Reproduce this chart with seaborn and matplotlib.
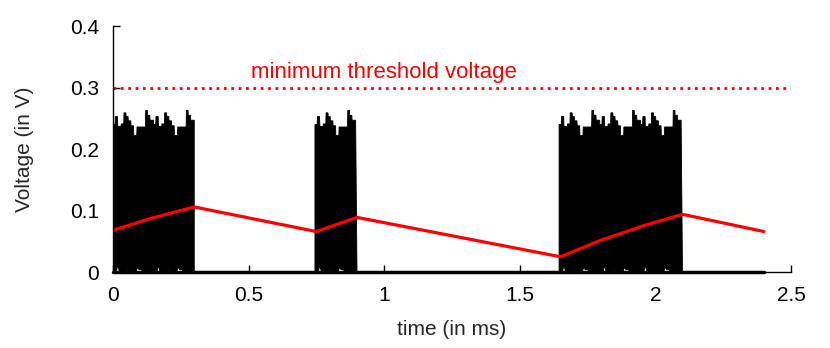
import numpy as np
import pandas as pd
import seaborn as sns
import matplotlib
matplotlib.use("Agg")
import matplotlib.pyplot as plt

# red curve (capacitor voltage)
red_t = [0.0, 0.137, 0.3, 0.75, 0.9, 1.65, 1.8, 1.96, 2.1, 2.4]
red_v = [0.068, 0.087, 0.106, 0.066, 0.089, 0.025, 0.052, 0.076, 0.094, 0.066]

# bursts of the harvested signal (start, end in ms)
burst_start = [0.0, 0.745, 1.645]
burst_end = [0.3, 0.9, 2.1]
period = 0.15

# one period of the upper envelope (offset in ms, V)
top_off = [0.0, 0.008, 0.009, 0.017, 0.018, 0.030, 0.031, 0.040, 0.041, 0.048,
           0.049, 0.056, 0.057, 0.066, 0.067, 0.076, 0.077, 0.088, 0.089, 0.120,
           0.121, 0.127, 0.128, 0.136, 0.137, 0.15]
top_v = [0.240, 0.240, 0.253, 0.253, 0.237, 0.237, 0.241, 0.241, 0.259, 0.259,
         0.253, 0.253, 0.246, 0.246, 0.238, 0.238, 0.222, 0.222, 0.236, 0.236,
         0.263, 0.263, 0.255, 0.255, 0.247, 0.247]

# one period of the lower envelope
low_off = [0.0, 0.012, 0.018, 0.024, 0.05, 0.055, 0.06, 0.085, 0.088, 0.092,
           0.096, 0.106, 0.109, 0.15]
low_v = [0.0, 0.0, 0.011, 0.0, 0.0, 0.004, 0.0, 0.0, 0.004, 0.008,
         0.004, 0.004, 0.0, 0.0]

signal_end = 2.4
threshold = 0.3

sns.set_theme(style="ticks")
plt.rcParams["font.family"] = ["Liberation Sans", "DejaVu Sans"]

fig = plt.figure(figsize=(8.3, 3.48), dpi=100)
ax = fig.add_axes([0.136, 0.218, 0.817, 0.707])

# baseline of the signal (zero between bursts)
sns.lineplot(x=[0.0, signal_end], y=[0.0, 0.0], color="black", lw=2.5,
             ax=ax, clip_on=False)

# bursts drawn as filled envelopes
for s, e in zip(burst_start, burst_end):
    n = int(round((e - s) / period))
    ut, uv, lt, lv = [], [], [], []
    for k in range(n):
        ut += [s + k * period + o for o in top_off]
        uv += top_v
        lt += [s + k * period + o for o in low_off]
        lv += low_v
    xs = [s] + ut + [e] + lt[::-1]
    ys = [0.0] + uv + [0.0] + lv[::-1]
    ax.fill(xs, ys, color="black", lw=0.6, edgecolor="black")

# threshold line
sns.lineplot(x=[0.0, 2.5], y=[threshold, threshold], color="red", lw=2,
             linestyle=":", ax=ax)
ax.text(1.0, 0.325, "minimum threshold voltage", color="red", fontsize=16,
        ha="center", va="center")

# red curve
red = pd.DataFrame({"t": red_t, "v": red_v})
sns.lineplot(data=red, x="t", y="v", color="red", lw=2.3, ax=ax)

ax.set_xlim(0, 2.5)
ax.set_ylim(0, 0.4)
ax.set_xticks([0, 0.5, 1, 1.5, 2, 2.5])
ax.set_xticklabels(["0", "0.5", "1", "1.5", "2", "2.5"])
ax.set_yticks([0, 0.1, 0.2, 0.3, 0.4])
ax.set_yticklabels(["0", "0.1", "0.2", "0.3", "0.4"])
ax.tick_params(direction="in", length=5, width=1, labelsize=15, pad=10,
               colors="black")
ax.set_xlabel("time (in ms)", fontsize=15, labelpad=11)
ax.set_ylabel("Voltage (in V)", fontsize=15, labelpad=26)
for side in ["left", "bottom"]:
    ax.spines[side].set_color("black")
    ax.spines[side].set_linewidth(1)
sns.despine(ax=ax)

fig.savefig("out.png", dpi=100)
